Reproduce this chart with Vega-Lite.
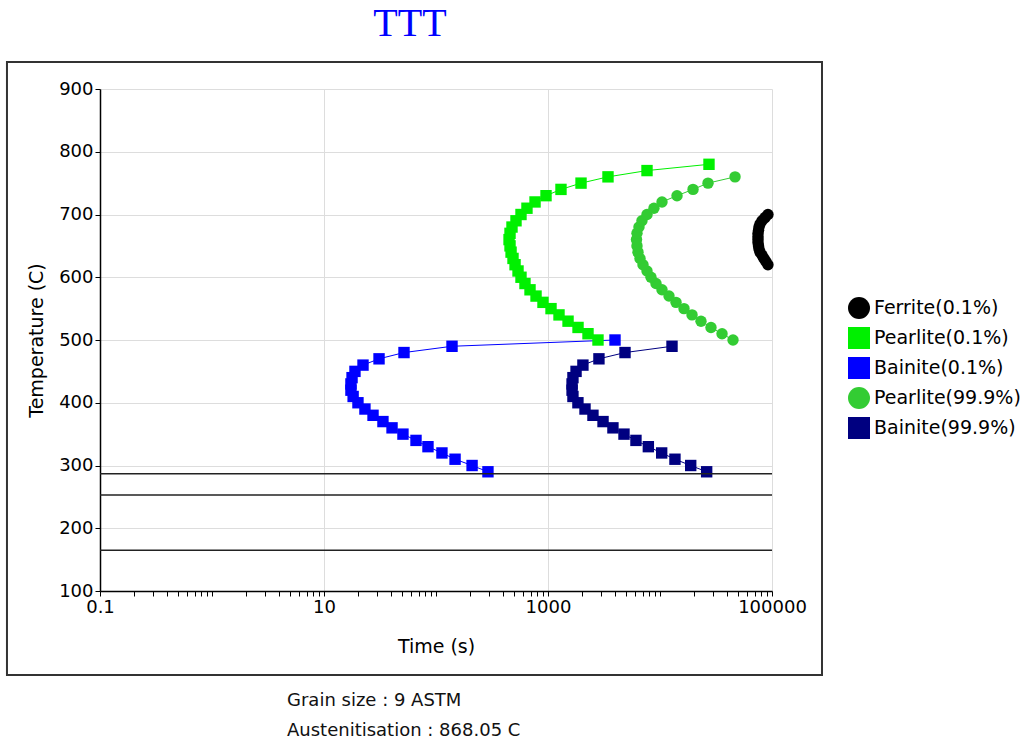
{
  "$schema": "https://vega.github.io/schema/vega-lite/v6.json",
  "width": 672,
  "height": 502,
  "padding": {"left": 5, "top": 4, "right": 0, "bottom": 0},
  "background": "white",
  "title": {"text": "TTT", "font": "Liberation Serif", "fontSize": 40, "fontWeight": "normal", "color": "#0000ff", "anchor": "middle", "dx": -26, "offset": 17},
  "config": {
    "view": {"stroke": null},
    "axis": {"labelFont": "DejaVu Sans", "titleFont": "DejaVu Sans", "labelColor": "black", "titleColor": "black", "titleFontWeight": "normal", "domainColor": "black", "domainWidth": 1.5, "tickColor": "black", "tickWidth": 1, "tickSize": 5, "gridColor": "#dddddd", "gridWidth": 1},
    "legend": {"orient": "none", "legendX": 748, "legendY": 208, "symbolSize": 484, "labelFontSize": 19, "labelFont": "DejaVu Sans", "labelColor": "black", "rowPadding": 8, "labelOffset": 4, "symbolStrokeWidth": 0, "symbolOpacity": 1, "labelLimit": 300}
  },
  "datasets": {
    "curves": [
      {"s":"Ferrite(0.1%)","T":620,"t":92000},
      {"s":"Ferrite(0.1%)","T":625,"t":88300},
      {"s":"Ferrite(0.1%)","T":630,"t":84850},
      {"s":"Ferrite(0.1%)","T":635,"t":81470},
      {"s":"Ferrite(0.1%)","T":640,"t":78160},
      {"s":"Ferrite(0.1%)","T":645,"t":76560},
      {"s":"Ferrite(0.1%)","T":650,"t":75800},
      {"s":"Ferrite(0.1%)","T":655,"t":75000},
      {"s":"Ferrite(0.1%)","T":660,"t":74990},
      {"s":"Ferrite(0.1%)","T":665,"t":74990},
      {"s":"Ferrite(0.1%)","T":670,"t":75000},
      {"s":"Ferrite(0.1%)","T":675,"t":75800},
      {"s":"Ferrite(0.1%)","T":680,"t":76560},
      {"s":"Ferrite(0.1%)","T":685,"t":78160},
      {"s":"Ferrite(0.1%)","T":690,"t":81470},
      {"s":"Ferrite(0.1%)","T":695,"t":86600},
      {"s":"Ferrite(0.1%)","T":700,"t":92000},
      {"s":"Pearlite(0.1%)","T":500,"t":2795},
      {"s":"Pearlite(0.1%)","T":510,"t":2276},
      {"s":"Pearlite(0.1%)","T":520,"t":1854},
      {"s":"Pearlite(0.1%)","T":530,"t":1510},
      {"s":"Pearlite(0.1%)","T":540,"t":1254},
      {"s":"Pearlite(0.1%)","T":550,"t":1064},
      {"s":"Pearlite(0.1%)","T":560,"t":902},
      {"s":"Pearlite(0.1%)","T":570,"t":782},
      {"s":"Pearlite(0.1%)","T":580,"t":691},
      {"s":"Pearlite(0.1%)","T":590,"t":623},
      {"s":"Pearlite(0.1%)","T":600,"t":574},
      {"s":"Pearlite(0.1%)","T":610,"t":540},
      {"s":"Pearlite(0.1%)","T":620,"t":508},
      {"s":"Pearlite(0.1%)","T":630,"t":487},
      {"s":"Pearlite(0.1%)","T":640,"t":468},
      {"s":"Pearlite(0.1%)","T":650,"t":458},
      {"s":"Pearlite(0.1%)","T":660,"t":449},
      {"s":"Pearlite(0.1%)","T":670,"t":458},
      {"s":"Pearlite(0.1%)","T":680,"t":477},
      {"s":"Pearlite(0.1%)","T":690,"t":518},
      {"s":"Pearlite(0.1%)","T":700,"t":574},
      {"s":"Pearlite(0.1%)","T":710,"t":649},
      {"s":"Pearlite(0.1%)","T":720,"t":766},
      {"s":"Pearlite(0.1%)","T":730,"t":960},
      {"s":"Pearlite(0.1%)","T":740,"t":1306},
      {"s":"Pearlite(0.1%)","T":750,"t":1972},
      {"s":"Pearlite(0.1%)","T":760,"t":3433},
      {"s":"Pearlite(0.1%)","T":770,"t":7656},
      {"s":"Pearlite(0.1%)","T":780,"t":27380},
      {"s":"Bainite(0.1%)","T":290,"t":291},
      {"s":"Bainite(0.1%)","T":300,"t":210},
      {"s":"Bainite(0.1%)","T":310,"t":148},
      {"s":"Bainite(0.1%)","T":320,"t":113},
      {"s":"Bainite(0.1%)","T":330,"t":84.8},
      {"s":"Bainite(0.1%)","T":340,"t":66.3},
      {"s":"Bainite(0.1%)","T":350,"t":50.7},
      {"s":"Bainite(0.1%)","T":360,"t":40.5},
      {"s":"Bainite(0.1%)","T":370,"t":33.6},
      {"s":"Bainite(0.1%)","T":380,"t":27.4},
      {"s":"Bainite(0.1%)","T":390,"t":23.2},
      {"s":"Bainite(0.1%)","T":400,"t":20.1},
      {"s":"Bainite(0.1%)","T":410,"t":18.2},
      {"s":"Bainite(0.1%)","T":420,"t":17.4},
      {"s":"Bainite(0.1%)","T":430,"t":17.4},
      {"s":"Bainite(0.1%)","T":440,"t":17.8},
      {"s":"Bainite(0.1%)","T":450,"t":18.9},
      {"s":"Bainite(0.1%)","T":460,"t":22.3},
      {"s":"Bainite(0.1%)","T":470,"t":31.0},
      {"s":"Bainite(0.1%)","T":480,"t":51.8},
      {"s":"Bainite(0.1%)","T":490,"t":139},
      {"s":"Bainite(0.1%)","T":500,"t":3965},
      {"s":"Pearlite(99.9%)","T":500,"t":44870},
      {"s":"Pearlite(99.9%)","T":510,"t":35800},
      {"s":"Pearlite(99.9%)","T":520,"t":28530},
      {"s":"Pearlite(99.9%)","T":530,"t":23230},
      {"s":"Pearlite(99.9%)","T":540,"t":19320},
      {"s":"Pearlite(99.9%)","T":550,"t":16380},
      {"s":"Pearlite(99.9%)","T":560,"t":13900},
      {"s":"Pearlite(99.9%)","T":570,"t":12030},
      {"s":"Pearlite(99.9%)","T":580,"t":10420},
      {"s":"Pearlite(99.9%)","T":590,"t":9210},
      {"s":"Pearlite(99.9%)","T":600,"t":8310},
      {"s":"Pearlite(99.9%)","T":610,"t":7656},
      {"s":"Pearlite(99.9%)","T":620,"t":7050},
      {"s":"Pearlite(99.9%)","T":630,"t":6630},
      {"s":"Pearlite(99.9%)","T":640,"t":6360},
      {"s":"Pearlite(99.9%)","T":650,"t":6230},
      {"s":"Pearlite(99.9%)","T":660,"t":6170},
      {"s":"Pearlite(99.9%)","T":670,"t":6230},
      {"s":"Pearlite(99.9%)","T":680,"t":6490},
      {"s":"Pearlite(99.9%)","T":690,"t":6900},
      {"s":"Pearlite(99.9%)","T":700,"t":7656},
      {"s":"Pearlite(99.9%)","T":710,"t":8830},
      {"s":"Pearlite(99.9%)","T":720,"t":10420},
      {"s":"Pearlite(99.9%)","T":730,"t":14190},
      {"s":"Pearlite(99.9%)","T":740,"t":19720},
      {"s":"Pearlite(99.9%)","T":750,"t":26840},
      {"s":"Pearlite(99.9%)","T":760,"t":46770},
      {"s":"Bainite(99.9%)","T":290,"t":26100},
      {"s":"Bainite(99.9%)","T":300,"t":18800},
      {"s":"Bainite(99.9%)","T":310,"t":13600},
      {"s":"Bainite(99.9%)","T":320,"t":10350},
      {"s":"Bainite(99.9%)","T":330,"t":7870},
      {"s":"Bainite(99.9%)","T":340,"t":6100},
      {"s":"Bainite(99.9%)","T":350,"t":4770},
      {"s":"Bainite(99.9%)","T":360,"t":3800},
      {"s":"Bainite(99.9%)","T":370,"t":3100},
      {"s":"Bainite(99.9%)","T":380,"t":2520},
      {"s":"Bainite(99.9%)","T":390,"t":2140},
      {"s":"Bainite(99.9%)","T":400,"t":1850},
      {"s":"Bainite(99.9%)","T":410,"t":1670},
      {"s":"Bainite(99.9%)","T":420,"t":1640},
      {"s":"Bainite(99.9%)","T":430,"t":1640},
      {"s":"Bainite(99.9%)","T":440,"t":1670},
      {"s":"Bainite(99.9%)","T":450,"t":1780},
      {"s":"Bainite(99.9%)","T":460,"t":2050},
      {"s":"Bainite(99.9%)","T":470,"t":2850},
      {"s":"Bainite(99.9%)","T":480,"t":4870},
      {"s":"Bainite(99.9%)","T":490,"t":12800}
    ],
    "ms": [
      {"T": 287},
      {"T": 253},
      {"T": 165}
    ],
    "one": [{}]
  },
  "layer": [
    {
      "data": {"name": "curves"},
      "transform": [{"filter": {"field": "s", "equal": "Pearlite(0.1%)"}}],
      "mark": {"type": "line", "strokeWidth": 1, "color": "#00f000"},
      "encoding": {
        "x": {"field": "t", "type": "quantitative", "title": "Time (s)", "scale": {"type": "log", "domain": [0.1, 100000], "nice": false}},
        "y": {"field": "T", "type": "quantitative", "title": "Temperature (C)", "scale": {"domain": [100, 900], "nice": false, "zero": false}},
        "order": {"field": "T", "type": "quantitative"}
      }
    },
    {
      "data": {"name": "curves"},
      "transform": [{"filter": {"field": "s", "equal": "Bainite(0.1%)"}}],
      "mark": {"type": "line", "strokeWidth": 1, "color": "#0000ff"},
      "encoding": {
        "x": {"field": "t", "type": "quantitative", "title": "Time (s)", "scale": {"type": "log", "domain": [0.1, 100000], "nice": false}},
        "y": {"field": "T", "type": "quantitative", "title": "Temperature (C)", "scale": {"domain": [100, 900], "nice": false, "zero": false}},
        "order": {"field": "T", "type": "quantitative"}
      }
    },
    {
      "data": {"name": "curves"},
      "transform": [{"filter": {"field": "s", "equal": "Pearlite(99.9%)"}}],
      "mark": {"type": "line", "strokeWidth": 1, "color": "#33cc33"},
      "encoding": {
        "x": {"field": "t", "type": "quantitative", "title": "Time (s)", "scale": {"type": "log", "domain": [0.1, 100000], "nice": false}},
        "y": {"field": "T", "type": "quantitative", "title": "Temperature (C)", "scale": {"domain": [100, 900], "nice": false, "zero": false}},
        "order": {"field": "T", "type": "quantitative"}
      }
    },
    {
      "data": {"name": "curves"},
      "transform": [{"filter": {"field": "s", "equal": "Bainite(99.9%)"}}],
      "mark": {"type": "line", "strokeWidth": 1, "color": "#000080"},
      "encoding": {
        "x": {"field": "t", "type": "quantitative", "title": "Time (s)", "scale": {"type": "log", "domain": [0.1, 100000], "nice": false}},
        "y": {"field": "T", "type": "quantitative", "title": "Temperature (C)", "scale": {"domain": [100, 900], "nice": false, "zero": false}},
        "order": {"field": "T", "type": "quantitative"}
      }
    },
    {
      "data": {"name": "curves"},
      "mark": {"type": "point", "filled": true, "opacity": 1, "size": 130, "strokeWidth": 0},
      "encoding": {
        "x": {"field": "t", "type": "quantitative", "title": "Time (s)",
          "scale": {"type": "log", "domain": [0.1, 100000], "nice": false},
          "axis": {
            "values": [0.1,0.2,0.3,0.4,0.5,0.6,0.7,0.8,0.9,1,2,3,4,5,6,7,8,9,10,20,30,40,50,60,70,80,90,100,200,300,400,500,600,700,800,900,1000,2000,3000,4000,5000,6000,7000,8000,9000,10000,20000,30000,40000,50000,60000,70000,80000,90000,100000],
            "labelExpr": "datum.value == 0.1 ? '0.1' : datum.value == 10 ? '10' : datum.value == 1000 ? '1000' : datum.value == 100000 ? '100000' : ''",
            "gridOpacity": {"condition": {"test": "datum.value == 0.1 || datum.value == 10 || datum.value == 1000 || datum.value == 100000", "value": 1}, "value": 0},
            "labelOverlap": false, "labelFlush": false, "labelBound": false,
            "labelFontSize": 18, "labelPadding": 2, "titleFontSize": 19, "titlePadding": 21
          }},
        "y": {"field": "T", "type": "quantitative", "title": "Temperature (C)",
          "scale": {"domain": [100, 900], "nice": false, "zero": false},
          "axis": {
            "values": [100,150,200,250,300,350,400,450,500,550,600,650,700,750,800,850,900],
            "labelExpr": "datum.value % 100 == 0 ? datum.label : ''",
            "gridOpacity": {"condition": {"test": "datum.value % 100 == 0", "value": 1}, "value": 0},
            "labelOverlap": false, "labelFlush": false, "labelBound": false,
            "labelFontSize": 18, "labelPadding": 2, "titleFontSize": 19, "titlePadding": 12
          }},
        "color": {"field": "s", "type": "nominal", "title": null,
          "scale": {"domain": ["Ferrite(0.1%)", "Pearlite(0.1%)", "Bainite(0.1%)", "Pearlite(99.9%)", "Bainite(99.9%)"],
                    "range": ["#000000", "#00f000", "#0000ff", "#33cc33", "#000080"]}},
        "shape": {"field": "s", "type": "nominal", "title": null,
          "scale": {"domain": ["Ferrite(0.1%)", "Pearlite(0.1%)", "Bainite(0.1%)", "Pearlite(99.9%)", "Bainite(99.9%)"],
                    "range": ["circle", "square", "square", "circle", "square"]}}
      }
    },
    {
      "data": {"name": "ms"},
      "mark": {"type": "rule", "color": "#222222", "strokeWidth": 1.5},
      "encoding": {
        "y": {"field": "T", "type": "quantitative", "title": "Temperature (C)", "scale": {"domain": [100, 900], "nice": false, "zero": false}}
      }
    },
    {
      "data": {"name": "one"},
      "mark": {"type": "rect", "fill": "white", "fillOpacity": 0, "stroke": "#333333", "strokeWidth": 2},
      "encoding": {
        "x": {"datum": 0.01477, "type": "quantitative", "title": "Time (s)", "scale": {"type": "log", "domain": [0.1, 100000], "nice": false}},
        "x2": {"datum": 279500},
        "y": {"datum": 943, "type": "quantitative", "title": "Temperature (C)", "scale": {"domain": [100, 900], "nice": false, "zero": false}},
        "y2": {"datum": -33.9}
      }
    },
    {
      "data": {"name": "one"},
      "mark": {"type": "text", "text": "Grain size : 9 ASTM", "align": "left", "baseline": "middle", "font": "DejaVu Sans", "fontSize": 18, "color": "#111111"},
      "encoding": {
        "x": {"datum": 4.674, "type": "quantitative", "title": "Time (s)", "scale": {"type": "log", "domain": [0.1, 100000], "nice": false}},
        "y": {"datum": -75.3, "type": "quantitative", "title": "Temperature (C)", "scale": {"domain": [100, 900], "nice": false, "zero": false}}
      }
    },
    {
      "data": {"name": "one"},
      "mark": {"type": "text", "text": "Austenitisation : 868.05 C", "align": "left", "baseline": "middle", "font": "DejaVu Sans", "fontSize": 18, "color": "#111111"},
      "encoding": {
        "x": {"datum": 4.674, "type": "quantitative", "title": "Time (s)", "scale": {"type": "log", "domain": [0.1, 100000], "nice": false}},
        "y": {"datum": -123.1, "type": "quantitative", "title": "Temperature (C)", "scale": {"domain": [100, 900], "nice": false, "zero": false}}
      }
    }
  ]
}
